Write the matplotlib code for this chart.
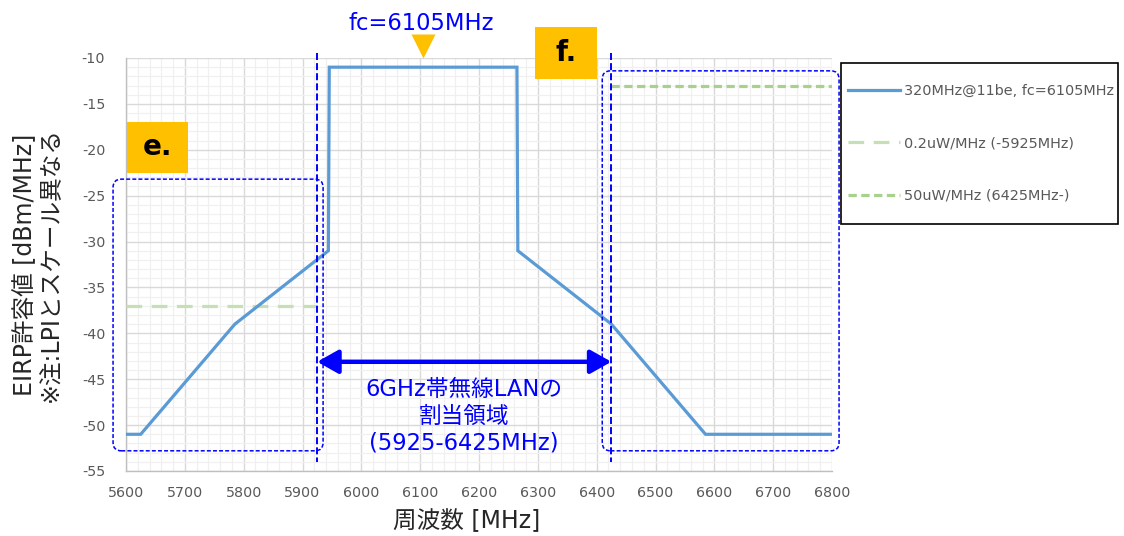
import matplotlib
matplotlib.use("Agg")
import matplotlib.pyplot as plt
from matplotlib.patches import FancyBboxPatch, Rectangle
from matplotlib.ticker import MultipleLocator

plt.rcParams['font.family'] = ['DejaVu Sans', 'Noto Sans CJK JP']
plt.rcParams['axes.unicode_minus'] = False

# ---- data ----
fc = 6105
mask_freq = [5600, 5625, 5785, 5944, 5945.5, 6264.5, 6266, 6425, 6585, 6800]
mask_eirp = [-51, -51, -39, -31, -11, -11, -31, -39, -51, -51]
lpi_low_freq = [5600, 5925]
lpi_low_eirp = [-37, -37]
lpi_high_freq = [6425, 6800]
lpi_high_eirp = [-13, -13]
band_edges = [5925, 6425]
x_ticks = list(range(5600, 6801, 100))
y_ticks = list(range(-55, -9, 5))

series_labels = ['320MHz@11be, fc=6105MHz', '0.2uW/MHz (-5925MHz)', '50uW/MHz (6425MHz-)']

BLUE_LINE = '#5B9BD5'
GREEN_LIGHT = '#C5E0B4'
GREEN_MID = '#A9D18E'
ANN = '#0000FF'
ORANGE = '#FFC000'
TICKC = '#595959'

fig = plt.figure(figsize=(11.24, 5.36), dpi=100, facecolor='white')
ax = fig.add_axes([126/1124, 1-471/536, (832-126)/1124, (471-58)/536])

ax.set_xlim(5600, 6800)
ax.set_ylim(-55, -10)
ax.set_xticks(x_ticks)
ax.set_yticks(y_ticks)
ax.xaxis.set_minor_locator(MultipleLocator(20))
ax.yaxis.set_minor_locator(MultipleLocator(1))
ax.grid(which='minor', color='#F0F0F0', lw=0.9, zorder=0)
ax.grid(which='major', color='#D9D9D9', lw=1.0, zorder=0)
ax.set_axisbelow(True)
ax.tick_params(which='both', length=0)
ax.tick_params(axis='x', labelsize=10.3, labelcolor=TICKC, pad=11)
ax.tick_params(axis='y', labelsize=10.3, labelcolor=TICKC, pad=15)
for s in ['top', 'right']:
    ax.spines[s].set_visible(False)
for s in ['left', 'bottom']:
    ax.spines[s].set_color('#BFBFBF')
    ax.spines[s].set_linewidth(1.0)

l1, = ax.plot(mask_freq, mask_eirp, color=BLUE_LINE, lw=2.3, zorder=4,
              solid_joinstyle='miter')
l2, = ax.plot(lpi_low_freq, lpi_low_eirp, color=GREEN_LIGHT, lw=2.3,
              linestyle=(0, (4.9, 3.0)), zorder=3)
l3, = ax.plot(lpi_high_freq, lpi_high_eirp, color=GREEN_MID, lw=2.3,
              linestyle=(0, (2.6, 1.4)), zorder=3)

# band edge dashed verticals
for xe in band_edges:
    ax.plot([xe, xe], [-9.45, -54.0], color=ANN, lw=1.4,
            linestyle=(0, (3.6, 1.6)), clip_on=False, zorder=5)

# dotted rounded boxes
asp = (45/413) / (1200/706)
for (x0, x1, y0, y1) in [(5578, 5935, -52.8, -23.2), (6409.5, 6812, -52.8, -11.4)]:
    p = FancyBboxPatch((x0, y0), x1-x0, y1-y0,
                       boxstyle='round,pad=0,rounding_size=14',
                       mutation_aspect=asp, fill=False, ec=ANN, lw=1.1,
                       linestyle=(0, (2.6, 1.4)), clip_on=False, zorder=5)
    ax.add_patch(p)

# orange labels
for (x0, x1, y0, y1, t) in [(5601.7, 5705, -22.5, -16.97, 'e.'),
                            (6295.6, 6401, -12.3, -6.6, 'f.')]:
    ax.add_patch(Rectangle((x0, y0), x1-x0, y1-y0, fc=ORANGE, ec='none',
                           clip_on=False, zorder=6))
    ax.text((x0+x1)/2, (y0+y1)/2, t, ha='center', va='center', fontsize=20,
            fontweight='bold', color='black', zorder=7, clip_on=False)

# fc marker and label
ax.plot([fc], [-8.7], marker='v', markersize=17, color=ORANGE, mec='none',
        clip_on=False, zorder=6)
ax.text(fc-3, -6.2, 'fc=6105MHz', ha='center', va='center', fontsize=16.3,
        color=ANN, clip_on=False)

# double arrow
ax.annotate('', xy=(band_edges[0], -43.1), xytext=(band_edges[1], -43.1),
            arrowprops=dict(arrowstyle='<|-|>,head_length=0.8,head_width=0.45',
                            mutation_scale=16, color=ANN, lw=3.2,
                            shrinkA=0, shrinkB=0), zorder=6)
ax.text(sum(band_edges)/2, -49.0, '6GHz帯無線LANの\n割当領域\n(5925-6425MHz)',
        ha='center', va='center', fontsize=16.3, color=ANN, linespacing=1.22,
        zorder=6)

# axis labels
fig.text(38/1124, 1-264.5/536, 'EIRP許容値 [dBm/MHz]\n※注:LPIとスケール異なる',
         rotation=90, ha='center', va='center', fontsize=17, color='#262626',
         multialignment='center', linespacing=1.05)
fig.text(467/1124, 1-521/536, '周波数 [MHz]', ha='center', va='center',
         fontsize=17, color='#262626')

# legend
fig.patches.append(Rectangle((841/1124, 1-224/536), (1118-841)/1124, (224-63)/536,
                             transform=fig.transFigure, fill=False, ec='black',
                             lw=1.2))
leg = fig.legend([l1, l2, l3], series_labels, loc='center left',
                 bbox_to_anchor=(845/1124, 1-143.5/536), frameon=False,
                 fontsize=10.4, labelspacing=2.65, handlelength=3.6,
                 handletextpad=0.3, borderpad=0.2, borderaxespad=0)
for t in leg.get_texts():
    t.set_color(TICKC)

fig.savefig('out.png', dpi=100, facecolor='white')
